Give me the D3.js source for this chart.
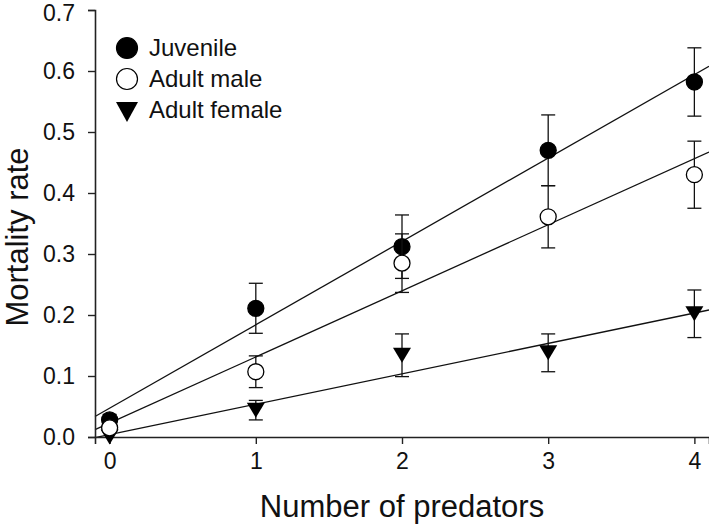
<!DOCTYPE html>
<html>
<head>
<meta charset="utf-8">
<script src="https://cdn.jsdelivr.net/npm/d3@7"></script>
<style>
  html, body { margin: 0; padding: 0; background: #fff; }
  svg { display: block; font-family: "Liberation Sans", Arial, sans-serif; }
</style>
</head>
<body>
<svg id="chart" width="709" height="524"></svg>
<script>
// ---- data ----
const predators = [0, 1, 2, 3, 4];
const juvenile = [0.028, 0.211, 0.312, 0.470, 0.582];
const juvenileSE = [0.009, 0.041, 0.052, 0.058, 0.056];
const adultMale = [0.015, 0.107, 0.285, 0.361, 0.430];
const adultMaleSE = [0.006, 0.026, 0.048, 0.051, 0.055];
const adultFemale = [0.000, 0.044, 0.134, 0.138, 0.202];
const adultFemaleSE = [0.000, 0.016, 0.035, 0.031, 0.039];
const seriesNames = ["Juvenile", "Adult male", "Adult female"];
const xTicks = [0, 1, 2, 3, 4];
const yTicks = [0.0, 0.1, 0.2, 0.3, 0.4, 0.5, 0.6, 0.7];

const series = [
  { name: seriesNames[2], values: adultFemale, se: adultFemaleSE, shape: "tri" },
  { name: seriesNames[0], values: juvenile, se: juvenileSE, shape: "filled" },
  { name: seriesNames[1], values: adultMale, se: adultMaleSE, shape: "open" }
];

// ---- layout ----
const svg = d3.select("#chart");
const mLeft = 95, mRight = 709, mTop = 10, mBottom = 437;
const x = d3.scaleLinear().domain([-0.1, 4.1]).range([mLeft, mRight]);
const y = d3.scaleLinear().domain([0, 0.7]).range([mBottom, mTop]);

// regression lines
function fit(vals) {
  const mx = d3.mean(predators), my = d3.mean(vals);
  let num = 0, den = 0;
  predators.forEach((p, i) => { num += (p - mx) * (vals[i] - my); den += (p - mx) ** 2; });
  const b = num / den;
  return { a: my - b * mx, b };
}
const lineG = svg.append("g");
series.forEach(s => {
  const f = fit(s.values);
  const xs = x.domain();
  lineG.append("line")
    .attr("x1", x(xs[0])).attr("y1", y(f.a + f.b * xs[0]))
    .attr("x2", x(xs[1])).attr("y2", y(f.a + f.b * xs[1]))
    .attr("stroke", "#111").attr("stroke-width", 1.3);
});

// axes
const yAxis = d3.axisLeft(y).tickValues(yTicks).tickFormat(d3.format(".1f")).tickSize(7).tickPadding(13);
const xAxis = d3.axisBottom(x).tickValues(xTicks).tickFormat(d3.format("d")).tickSize(7).tickPadding(9);

const gy = svg.append("g").attr("transform", `translate(${mLeft},0)`).call(yAxis);
const gx = svg.append("g").attr("transform", `translate(0,${mBottom})`).call(xAxis);
[gx, gy].forEach(g => {
  g.select(".domain").attr("stroke", "#222").attr("stroke-width", 1.6);
  g.selectAll(".tick line").attr("stroke", "#222").attr("stroke-width", 1.4);
  g.selectAll(".tick text").attr("fill", "#111").style("font-size", "23px")
    .style("font-family", '"Liberation Sans", Arial, sans-serif');
});
// keep the topmost tick label inside the picture
gy.selectAll(".tick text").filter(d => d === d3.max(yTicks)).attr("dy", "0.47em");

// error bars & markers
const capW = 7;
const triPath = (cx, cy, w, h) => `M${cx - w / 2},${cy - h / 2}L${cx + w / 2},${cy - h / 2}L${cx},${cy + h / 2}Z`;

series.forEach(s => {
  const g = svg.append("g");
  s.values.forEach((v, i) => {
    const cx = x(predators[i]);
    const se = s.se[i];
    if (se > 0) {
      const y1 = y(v + se), y2 = y(v - se);
      g.append("line").attr("x1", cx).attr("x2", cx).attr("y1", y1).attr("y2", y2)
        .attr("stroke", "#111").attr("stroke-width", 1.3);
      [y1, y2].forEach(yy => g.append("line")
        .attr("x1", cx - capW).attr("x2", cx + capW).attr("y1", yy).attr("y2", yy)
        .attr("stroke", "#111").attr("stroke-width", 1.3));
    }
  });
  s.values.forEach((v, i) => {
    const cx = x(predators[i]), cy = y(v);
    if (s.shape === "tri") {
      g.append("path").attr("d", triPath(cx, cy, 18, 15)).attr("fill", "#000");
    } else {
      g.append("circle").attr("cx", cx).attr("cy", cy).attr("r", 8)
        .attr("fill", s.shape === "filled" ? "#000" : "#fff")
        .attr("stroke", "#000").attr("stroke-width", 1.3);
    }
  });
});

// legend
const legend = svg.append("g");
const legendItems = [
  { name: seriesNames[0], shape: "filled" },
  { name: seriesNames[1], shape: "open" },
  { name: seriesNames[2], shape: "tri" }
];
legendItems.forEach((it, i) => {
  const cy = 48 + i * 31;
  if (it.shape === "tri") {
    legend.append("path").attr("d", triPath(127, cy + 2, 22, 20)).attr("fill", "#000");
  } else {
    legend.append("circle").attr("cx", 127).attr("cy", cy).attr("r", 10.5)
      .attr("fill", it.shape === "filled" ? "#000" : "#fff")
      .attr("stroke", "#000").attr("stroke-width", 1.2);
  }
  legend.append("text").attr("x", 149).attr("y", cy + 8)
    .attr("fill", "#111").style("font-size", "24px").text(it.name);
});

// axis titles
svg.append("text").attr("x", (mLeft + mRight) / 2).attr("y", 517)
  .attr("text-anchor", "middle").attr("fill", "#111").style("font-size", "31px")
  .text("Number of predators");
svg.append("text").attr("transform", `translate(28,237) rotate(-90)`)
  .attr("text-anchor", "middle").attr("fill", "#111").style("font-size", "31px")
  .text("Mortality rate");
</script>
</body>
</html>
